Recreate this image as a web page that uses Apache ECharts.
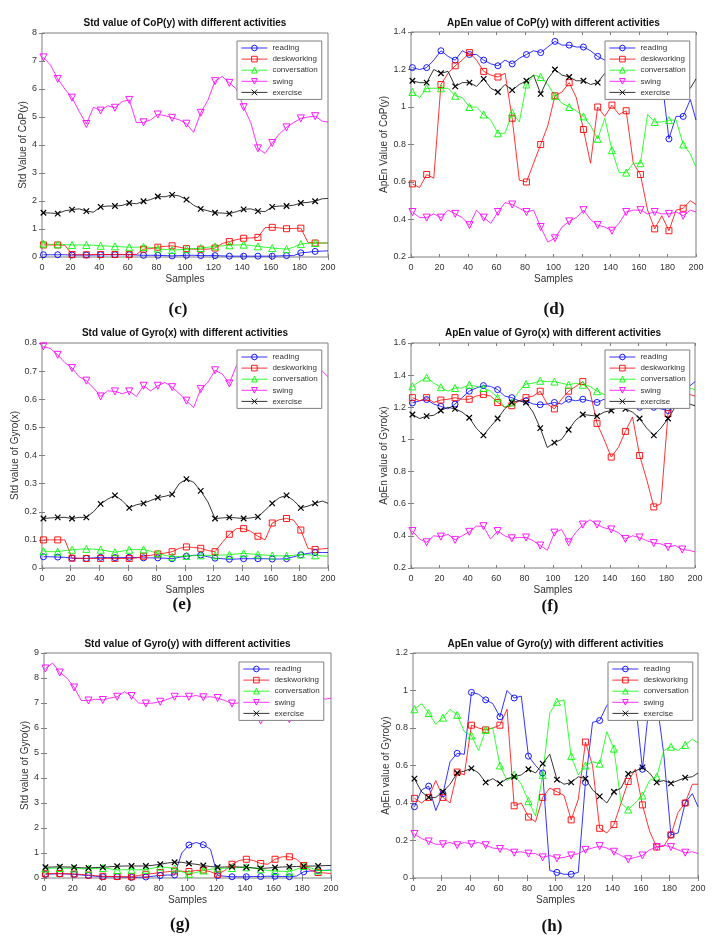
<!DOCTYPE html>
<html><head><meta charset="utf-8">
<script src="https://cdn.jsdelivr.net/npm/echarts@6/dist/echarts.min.js"></script>
<style>html,body{margin:0;padding:0;background:#fff}#chart{width:724px;height:950px}</style>
</head><body><div id="chart"></div>
<script>
// ---- sample positions (x) ----
const samples = [1,6,11,16,21,26,31,36,41,46,51,56,61,66,71,76,81,86,91,96,101,106,111,116,121,126,131,136,141,146,151,156,161,166,171,176,181,186,191,196,200];
const activities = ['reading','deskworking','conversation','swing','exercise'];
const xTicks = [0,20,40,60,80,100,120,140,160,180,200];

// ---- (c) Std value of CoP(y) ----
const cReading = [0.08,0.08,0.08,0.08,0.07,0.07,0.07,0.07,0.08,0.08,0.08,0.08,0.08,0.07,0.06,0.06,0.06,0.05,0.04,0.05,0.06,0.06,0.05,0.05,0.05,0.04,0.03,0.03,0.03,0.03,0.03,0.03,0.03,0.04,0.05,0.05,0.15,0.17,0.2,0.21,0.22];
const cDesk = [0.43,0.43,0.43,0.42,0.09,0.08,0.08,0.09,0.09,0.09,0.09,0.09,0.09,0.09,0.28,0.3,0.35,0.38,0.4,0.35,0.3,0.28,0.28,0.28,0.32,0.48,0.55,0.62,0.67,0.68,0.7,1.05,1.06,1.04,1.01,1.02,1.03,0.52,0.5,0.5,0.5];
const cConv = [0.48,0.45,0.45,0.44,0.43,0.43,0.43,0.42,0.4,0.39,0.38,0.36,0.35,0.35,0.36,0.34,0.3,0.27,0.25,0.26,0.28,0.3,0.32,0.35,0.38,0.4,0.42,0.43,0.44,0.41,0.38,0.35,0.32,0.3,0.28,0.35,0.46,0.49,0.5,0.5,0.5];
const cSwing = [7.13,6.85,6.36,6.0,5.69,5.2,4.75,5.35,5.23,5.4,5.33,5.55,5.61,4.8,4.81,4.9,5.09,5.05,4.97,4.9,4.76,4.45,5.15,5.6,6.28,6.45,6.22,6.0,5.35,4.8,3.88,3.7,4.07,4.4,4.63,4.8,4.95,5.0,5.03,4.85,4.82];
const cExer = [1.58,1.57,1.55,1.65,1.69,1.72,1.64,1.6,1.79,1.82,1.82,1.84,1.93,1.9,1.99,2.05,2.16,2.15,2.22,2.18,2.05,1.85,1.72,1.65,1.58,1.57,1.55,1.62,1.7,1.72,1.64,1.62,1.79,1.82,1.82,1.85,1.93,1.95,1.99,2.08,2.09];
const cYTicks = [0,1,2,3,4,5,6,7,8];

// ---- (d) ApEn value of CoP(y) ----
const dReading = [1.21,1.2,1.21,1.25,1.3,1.27,1.25,1.3,1.28,1.28,1.25,1.23,1.22,1.25,1.23,1.26,1.28,1.3,1.29,1.32,1.35,1.33,1.33,1.32,1.32,1.3,1.27,1.25,1.24,1.24,1.25,1.24,1.22,1.2,1.18,1.15,0.83,0.95,0.95,1.04,0.93];
const dDesk = [0.59,0.57,0.64,0.62,1.12,1.18,1.22,1.25,1.29,1.25,1.19,1.17,1.16,1.18,0.94,0.61,0.6,0.7,0.8,0.9,1.06,1.08,1.13,1.05,0.88,0.7,1.0,0.95,1.01,0.96,0.98,0.7,0.64,0.45,0.35,0.42,0.34,0.45,0.46,0.5,0.48];
const dConv = [1.08,1.05,1.1,1.1,1.1,1.1,1.06,1.05,1.0,1.0,0.96,0.93,0.86,0.86,0.97,0.92,1.12,1.17,1.16,1.12,1.06,1.02,1.0,0.98,0.95,0.9,0.83,0.94,0.77,0.65,0.65,0.7,0.7,0.96,0.92,0.92,0.93,0.93,0.8,0.75,0.68];
const dSwing = [0.44,0.41,0.41,0.43,0.41,0.45,0.43,0.41,0.37,0.45,0.41,0.38,0.44,0.49,0.48,0.46,0.44,0.45,0.36,0.28,0.3,0.36,0.39,0.41,0.45,0.4,0.37,0.36,0.34,0.38,0.44,0.45,0.45,0.43,0.44,0.43,0.43,0.44,0.42,0.45,0.44];
const dExer = [1.14,1.13,1.13,1.2,1.18,1.19,1.11,1.13,1.13,1.11,1.15,1.1,1.08,1.12,1.09,1.12,1.14,1.17,1.07,1.15,1.2,1.17,1.16,1.14,1.14,1.12,1.13,1.18,1.18,1.17,1.16,1.15,1.14,1.15,1.13,1.12,1.1,1.12,1.1,1.1,1.15];
const dYTicks = [0.2,0.4,0.6,0.8,1,1.2,1.4];

// ---- (e) Std value of Gyro(x) ----
const eReading = [0.04,0.04,0.039,0.038,0.035,0.034,0.034,0.036,0.038,0.037,0.037,0.037,0.038,0.037,0.036,0.036,0.036,0.035,0.033,0.038,0.042,0.045,0.046,0.04,0.035,0.033,0.031,0.032,0.033,0.033,0.033,0.033,0.032,0.032,0.033,0.04,0.047,0.052,0.055,0.055,0.055];
const eDesk = [0.1,0.1,0.1,0.1,0.035,0.035,0.034,0.034,0.034,0.034,0.034,0.034,0.034,0.036,0.042,0.045,0.05,0.053,0.058,0.07,0.075,0.073,0.07,0.062,0.058,0.09,0.12,0.14,0.14,0.13,0.113,0.1,0.16,0.172,0.176,0.17,0.135,0.07,0.066,0.068,0.07];
const eConv = [0.06,0.058,0.058,0.062,0.065,0.067,0.068,0.067,0.065,0.06,0.056,0.06,0.065,0.066,0.066,0.06,0.052,0.045,0.04,0.041,0.043,0.044,0.045,0.045,0.045,0.046,0.047,0.05,0.052,0.05,0.048,0.046,0.044,0.043,0.043,0.045,0.048,0.047,0.045,0.043,0.042];
const eSwing = [0.788,0.78,0.758,0.73,0.711,0.68,0.666,0.64,0.61,0.63,0.628,0.62,0.628,0.61,0.648,0.63,0.648,0.66,0.643,0.62,0.595,0.57,0.636,0.66,0.703,0.69,0.656,0.72,0.71,0.7,0.69,0.7,0.71,0.7,0.7,0.71,0.72,0.71,0.71,0.7,0.68];
const eExer = [0.176,0.178,0.18,0.18,0.176,0.18,0.18,0.2,0.228,0.245,0.258,0.24,0.214,0.225,0.23,0.24,0.25,0.255,0.262,0.3,0.316,0.305,0.274,0.235,0.176,0.178,0.18,0.178,0.176,0.178,0.182,0.205,0.23,0.25,0.258,0.24,0.214,0.22,0.23,0.238,0.23];
const eYTicks = [0,0.1,0.2,0.3,0.4,0.5,0.6,0.7,0.8];

// ---- (f) ApEn value of Gyro(x) ----
const fReading = [1.227,1.24,1.248,1.22,1.206,1.19,1.22,1.26,1.3,1.32,1.335,1.33,1.31,1.27,1.26,1.24,1.24,1.22,1.216,1.22,1.23,1.22,1.25,1.24,1.25,1.24,1.23,1.25,1.22,1.23,1.22,1.21,1.2,1.21,1.2,1.19,1.18,1.2,1.25,1.33,1.36];
const fDesk = [1.26,1.24,1.26,1.23,1.245,1.25,1.26,1.25,1.25,1.27,1.28,1.27,1.23,1.2,1.21,1.24,1.26,1.27,1.3,1.22,1.19,1.25,1.3,1.33,1.36,1.3,1.1,1.0,0.89,0.95,1.05,1.14,0.9,0.75,0.58,0.6,1.16,1.25,1.28,1.28,1.27];
const fConv = [1.33,1.36,1.385,1.35,1.325,1.3,1.32,1.32,1.34,1.33,1.32,1.3,1.26,1.2,1.23,1.3,1.345,1.35,1.365,1.36,1.36,1.35,1.34,1.35,1.34,1.33,1.3,1.28,1.28,1.29,1.3,1.3,1.29,1.3,1.29,1.3,1.3,1.31,1.32,1.32,1.31];
const fSwing = [0.43,0.38,0.36,0.4,0.395,0.41,0.375,0.4,0.425,0.46,0.46,0.38,0.43,0.4,0.385,0.39,0.39,0.37,0.34,0.31,0.42,0.44,0.36,0.42,0.47,0.5,0.47,0.45,0.44,0.42,0.38,0.4,0.39,0.37,0.355,0.35,0.33,0.34,0.315,0.31,0.3];
const fExer = [1.155,1.13,1.145,1.15,1.18,1.2,1.19,1.17,1.135,1.07,1.025,1.08,1.13,1.19,1.23,1.24,1.23,1.17,1.07,0.95,0.98,1.0,1.06,1.12,1.155,1.15,1.145,1.17,1.18,1.2,1.19,1.17,1.13,1.07,1.025,1.07,1.13,1.2,1.22,1.22,1.21];
const fYTicks = [0.2,0.4,0.6,0.8,1,1.2,1.4,1.6];

// ---- (g) Std value of Gyro(y) ----
const gReading = [0.15,0.16,0.17,0.16,0.15,0.12,0.1,0.07,0.05,0.05,0.05,0.04,0.03,0.03,0.04,0.07,0.1,0.12,0.12,1.0,1.32,1.42,1.33,1.15,0.1,0.07,0.05,0.05,0.05,0.06,0.06,0.07,0.07,0.06,0.05,0.08,0.25,0.28,0.3,0.31,0.32];
const gDesk = [0.17,0.18,0.18,0.17,0.16,0.14,0.12,0.09,0.07,0.06,0.06,0.05,0.05,0.1,0.15,0.18,0.22,0.25,0.28,0.27,0.26,0.3,0.32,0.25,0.15,0.3,0.55,0.7,0.75,0.7,0.58,0.55,0.75,0.85,0.85,0.75,0.5,0.3,0.22,0.2,0.18];
const gConv = [0.38,0.39,0.4,0.39,0.38,0.37,0.37,0.38,0.4,0.36,0.32,0.33,0.33,0.33,0.33,0.4,0.45,0.42,0.38,0.25,0.17,0.22,0.3,0.35,0.38,0.39,0.4,0.42,0.43,0.4,0.35,0.3,0.28,0.27,0.25,0.35,0.48,0.4,0.3,0.3,0.3];
const gSwing = [8.38,8.6,8.22,8.0,7.62,7.1,7.1,7.15,7.12,7.2,7.25,7.45,7.28,7.0,6.98,7.0,7.05,7.15,7.25,7.27,7.25,7.3,7.23,7.25,7.2,7.1,6.98,7.0,6.8,6.6,6.3,6.5,6.6,6.55,6.35,6.8,7.1,7.3,7.3,7.15,7.2];
const gExer = [0.43,0.44,0.45,0.44,0.43,0.41,0.4,0.42,0.43,0.45,0.47,0.48,0.48,0.48,0.48,0.51,0.55,0.6,0.63,0.63,0.58,0.55,0.5,0.46,0.43,0.44,0.45,0.44,0.43,0.4,0.38,0.4,0.42,0.44,0.45,0.46,0.47,0.48,0.48,0.5,0.5];
const gYTicks = [0,1,2,3,4,5,6,7,8,9];

// ---- (h) ApEn value of Gyro(y) ----
const hReading = [0.38,0.47,0.49,0.36,0.45,0.62,0.665,0.66,0.99,0.98,0.95,0.93,0.86,1.0,0.96,0.97,0.65,0.6,0.56,0.04,0.03,0.02,0.02,0.03,0.51,0.83,0.84,0.92,0.95,0.97,0.95,0.95,0.58,0.95,0.95,0.66,0.23,0.24,0.4,0.45,0.38];
const hDesk = [0.425,0.4,0.43,0.52,0.43,0.4,0.565,0.55,0.815,0.8,0.79,0.8,0.815,0.9,0.385,0.4,0.325,0.3,0.43,0.48,0.46,0.44,0.31,0.42,0.725,0.6,0.265,0.24,0.285,0.4,0.515,0.58,0.39,0.25,0.165,0.17,0.23,0.35,0.4,0.5,0.5];
const hConv = [0.9,0.93,0.88,0.82,0.855,0.9,0.87,0.78,0.76,0.68,0.79,0.8,0.6,0.52,0.55,0.5,0.41,0.33,0.55,0.88,0.94,0.95,0.65,0.55,0.6,0.62,0.61,0.78,0.69,0.4,0.365,0.4,0.44,0.52,0.54,0.68,0.7,0.68,0.71,0.74,0.72];
const hSwing = [0.235,0.21,0.195,0.18,0.18,0.19,0.175,0.19,0.18,0.19,0.175,0.16,0.155,0.155,0.135,0.14,0.13,0.13,0.11,0.12,0.105,0.11,0.12,0.13,0.15,0.16,0.17,0.16,0.14,0.12,0.1,0.11,0.12,0.15,0.165,0.175,0.165,0.15,0.135,0.14,0.13];
const hExer = [0.53,0.46,0.43,0.43,0.46,0.5,0.56,0.57,0.585,0.56,0.51,0.53,0.505,0.53,0.54,0.55,0.58,0.56,0.61,0.66,0.525,0.5,0.51,0.54,0.53,0.47,0.435,0.4,0.46,0.48,0.555,0.57,0.59,0.56,0.51,0.52,0.505,0.52,0.535,0.54,0.56];
const hYTicks = [0,0.2,0.4,0.6,0.8,1,1.2];

// ---------------- styles / layout ----------------
const colors = ['#0000ff','#ff0000','#00ff00','#ff00ff','#000000'];
const symbols = [
  'circle',
  'rect',
  'path://M5,0L10,9L0,9Z',
  'path://M0,0L10,0L5,9Z',
  'path://M0,0L10,10M10,0L0,10'
];
const symSizes = [6,6,7,7,5.5];
const AXC = '#808080', TXC = '#333333';

const panels = [
  {title:'Std value of CoP(y) with different activities', ylabel:'Std Value of CoP(y)', tag:'(c)',
   g:{left:42,top:33,width:286,height:224}, yt:cYTicks, ygap:10, leg:{left:237,top:41}, tagPos:[178,310], titleY:23,
   data:[cReading,cDesk,cConv,cSwing,cExer]},
  {title:'ApEn value of CoP(y) with different activities', ylabel:'ApEn Value of CoP(y)', tag:'(d)',
   g:{left:411,top:32,width:285,height:225}, yt:dYTicks, ygap:21, leg:{left:605,top:41}, tagPos:[554,310], titleY:23,
   data:[dReading,dDesk,dConv,dSwing,dExer]},
  {title:'Std value of Gyro(x) with different activities', ylabel:'Std value of Gyro(x)', tag:'(e)',
   g:{left:42,top:343,width:286,height:225}, yt:eYTicks, ygap:19, leg:{left:237,top:350}, tagPos:[182,605], titleY:333,
   data:[eReading,eDesk,eConv,eSwing,eExer]},
  {title:'ApEn value of Gyro(x) with different activities', ylabel:'ApEn value of Gyro(x)', tag:'(f)',
   g:{left:411,top:343,width:284,height:225}, yt:fYTicks, ygap:18, leg:{left:605,top:350}, tagPos:[550,607], titleY:333,
   data:[fReading,fDesk,fConv,fSwing,fExer]},
  {title:'Std value of Gyro(y) with different activities', ylabel:'Std value of Gyro(y)', tag:'(g)',
   g:{left:44,top:653,width:287,height:225}, yt:gYTicks, ygap:11, leg:{left:239,top:662}, tagPos:[180,925], titleY:644,
   data:[gReading,gDesk,gConv,gSwing,gExer]},
  {title:'ApEn value of Gyro(y) with different activities', ylabel:'ApEn value of Gyro(y)', tag:'(h)',
   g:{left:413,top:653,width:285,height:225}, yt:hYTicks, ygap:19, leg:{left:608,top:662}, tagPos:[552,927], titleY:644,
   data:[hReading,hDesk,hConv,hSwing,hExer]}
];

function isMarker(x){ return (x - 1) % 10 === 0 && x <= 191; }

const grid = [], xAxis = [], yAxis = [], series = [], legend = [], graphic = [];
panels.forEach((p, pi) => {
  grid.push(Object.assign({show:true, borderColor:AXC, borderWidth:1, backgroundColor:'#fff', containLabel:false}, p.g));
  const yMin = p.yt[0], yMax = p.yt[p.yt.length-1], yInt = p.yt[1]-p.yt[0];
  const baseX = {type:'value', gridIndex:pi, min:xTicks[0], max:xTicks[xTicks.length-1], interval:xTicks[1]-xTicks[0],
    splitLine:{show:false}, axisLine:{show:false}, axisTick:{show:true, inside:true, length:3, lineStyle:{color:AXC}}};
  xAxis.push(Object.assign({}, baseX, {position:'bottom', name:'Samples', nameLocation:'middle', nameGap:17,
    nameTextStyle:{fontSize:10, color:TXC, fontFamily:'Liberation Sans'},
    axisLabel:{margin:6, fontSize:9, color:TXC, fontFamily:'Liberation Sans'}}));
  xAxis.push(Object.assign({}, baseX, {position:'top', axisLabel:{show:false}}));
  const baseY = {type:'value', gridIndex:pi, min:yMin, max:yMax, interval:yInt,
    splitLine:{show:false}, axisLine:{show:false}, axisTick:{show:true, inside:true, length:3, lineStyle:{color:AXC}}};
  yAxis.push(Object.assign({}, baseY, {position:'left', name:p.ylabel, nameLocation:'middle', nameGap:p.ygap,
    nameTextStyle:{fontSize:10, color:TXC, fontFamily:'Liberation Sans'},
    axisLabel:{margin:5, fontSize:9, color:TXC, fontFamily:'Liberation Sans',
      formatter: v => String(Math.round(v*1000)/1000)}}));
  yAxis.push(Object.assign({}, baseY, {position:'right', axisLabel:{show:false}}));

  p.data.forEach((ys, si) => {
    series.push({
      type:'line', name:activities[si], xAxisIndex:pi*2, yAxisIndex:pi*2,
      data: samples.map((x, i) => isMarker(x) ? [x, ys[i]] : {value:[x, ys[i]], symbol:'none'}),
      symbol: symbols[si], symbolSize: symSizes[si], showSymbol:true, showAllSymbol:true,
      lineStyle:{color:colors[si], width:0.8},
      itemStyle:{color:'rgba(0,0,0,0)', borderColor:colors[si], borderWidth: si===4 ? 1.2 : 0.9},
      silent:true, z:2, clip:true
    });
  });

  legend.push({
    left:p.leg.left, top:p.leg.top, orient:'vertical', data:activities,
    backgroundColor:'#fff', borderColor:AXC, borderWidth:1, borderRadius:0,
    padding:[2,4,2,4], itemGap:1.1, itemWidth:26, itemHeight:7,
    lineStyle:{width:0.8}, itemStyle:{borderWidth:0.9},
    textStyle:{fontSize:8, lineHeight:10, color:TXC, fontFamily:'Liberation Sans', padding:[0,0,0,0]},
    selectedMode:false, z:10
  });

  graphic.push({type:'text', x:p.g.left + p.g.width/2, y:p.titleY, z:20,
    style:{text:p.title, font:'bold 10px "Liberation Sans"', fill:'#111', align:'center', verticalAlign:'middle',
      textAlign:'center', textVerticalAlign:'middle'}});
  graphic.push({type:'text', x:p.tagPos[0], y:p.tagPos[1], z:20,
    style:{text:p.tag, font:'bold 17px "Liberation Serif"', fill:'#111', align:'center', verticalAlign:'middle',
      textAlign:'center', textVerticalAlign:'middle'}});
});

const chart = echarts.init(document.getElementById('chart'), null, {renderer:'canvas'});
chart.setOption({animation:false, backgroundColor:'#fff', grid, xAxis, yAxis, series, legend, graphic});
</script>
</body></html>
